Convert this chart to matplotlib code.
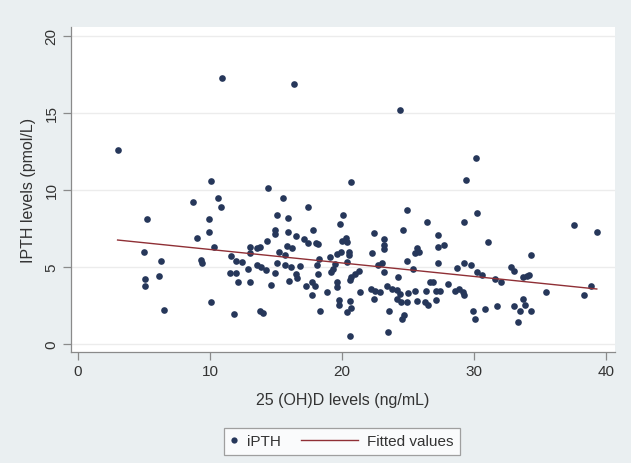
import matplotlib.pyplot as plt
from matplotlib.lines import Line2D
from matplotlib.legend_handler import HandlerLine2D

# 25(OH)D levels (ng/mL) and iPTH levels (pmol/L)
vitd = [10.9, 3.0, 10.1, 14.4, 16.4, 24.4, 20.7, 30.15, 29.4,
        8.7, 10.6, 10.8, 5.25, 9.95, 9.95, 9.0, 10.3, 4.97, 6.3, 9.3, 9.4, 5.1, 5.1, 6.15, 6.55,
        10.1, 11.8, 13.75, 14.0, 13.0, 13.0, 13.55, 13.8, 14.3, 11.6, 12.0, 12.45, 12.9, 13.55,
        13.85, 14.25, 11.5, 11.95, 12.1, 13.0, 14.6,
        15.5, 17.45, 15.1, 15.9, 14.9, 14.9, 15.9, 17.8, 16.5, 17.1, 17.45, 18.0, 15.85, 16.2,
        15.2, 15.7, 18.25, 15.05, 15.7, 16.1, 16.8, 14.9, 16.5, 16.6, 16.0, 17.25, 17.75, 17.95,
        17.75, 18.3,
        20.1, 19.85, 18.2, 20.0, 20.3, 20.4, 20.5, 20.5, 20.35, 19.9, 19.6, 19.1, 19.45, 19.35,
        19.15, 18.1, 18.15, 21.25, 21.0, 20.7, 20.6, 19.6, 19.65, 18.85, 21.35, 22.2, 22.5, 22.4,
        19.75, 19.75, 20.6, 20.7, 20.35, 20.6, 22.4, 22.25, 22.75,
        24.9, 26.45, 24.6, 27.3, 23.2, 23.2, 23.2, 25.65, 25.8, 25.5, 27.25, 24.9, 23.05, 23.2,
        25.4, 27.3, 24.25, 26.65, 26.9, 23.4, 23.75, 24.15, 24.4, 22.9, 25.0, 25.5, 25.65, 24.9,
        24.5, 24.2, 26.4, 26.3, 26.55, 27.15, 27.15, 23.55, 24.7, 24.55, 23.45,
        30.25, 29.25, 31.05, 27.7, 28.7, 29.25, 29.75, 30.25, 30.6, 31.6, 28.05, 27.4, 28.55,
        28.85, 29.2, 29.25, 29.9, 30.1, 30.8, 31.75,
        34.35, 37.55, 39.3, 32.05, 32.8, 33.0, 33.7, 34.0, 34.15, 33.0, 33.7, 33.9, 33.5, 34.35,
        33.3, 35.45, 38.35, 38.85]
ipth = [17.3, 12.6, 10.6, 10.1, 16.9, 15.2, 10.5, 12.1, 10.65,
        9.2, 9.5, 8.9, 8.1, 8.1, 7.3, 6.9, 6.3, 6.0, 5.4, 5.45, 5.25, 4.2, 3.75, 4.4, 2.2,
        2.7, 1.95, 2.15, 2.0, 6.3, 5.9, 6.2, 6.3, 6.7, 5.7, 5.4, 5.3, 4.9, 5.1,
        5.0, 4.8, 4.6, 4.6, 4.0, 4.0, 3.85,
        9.5, 8.9, 8.4, 8.15, 7.4, 7.15, 7.3, 7.4, 7.0, 6.8, 6.55, 6.55, 6.35, 6.25,
        5.95, 5.75, 5.5, 5.25, 5.15, 5.0, 5.05, 4.6, 4.55, 4.3, 4.1, 3.75, 4.0, 3.75,
        3.15, 2.15,
        8.4, 7.8, 6.5, 6.7, 6.9, 6.6, 6.0, 5.8, 5.3, 5.95, 5.85, 5.65, 5.2, 4.9,
        4.65, 5.15, 4.55, 4.75, 4.55, 4.35, 4.15, 4.05, 3.7, 3.4, 3.35, 3.55, 3.45, 2.9,
        2.85, 2.55, 2.8, 2.35, 2.05, 0.55, 7.2, 5.9, 5.15,
        8.7, 7.9, 7.4, 7.05, 6.8, 6.4, 6.15, 6.25, 5.95, 5.9, 6.3, 5.4, 5.25, 4.65,
        4.9, 5.25, 4.35, 4.05, 4.05, 3.75, 3.6, 3.5, 3.25, 3.35, 3.3, 3.45, 2.8, 2.75,
        2.7, 2.9, 3.45, 2.7, 2.55, 3.45, 2.85, 2.15, 1.85, 1.65, 0.75,
        8.5, 7.9, 6.6, 6.45, 4.95, 5.25, 5.1, 4.65, 4.5, 4.25, 3.9, 3.45, 3.45,
        3.55, 3.35, 3.2, 2.15, 1.65, 2.3, 2.45,
        5.8, 7.7, 7.3, 4.0, 5.0, 4.75, 4.35, 4.4, 4.45, 2.45, 2.95, 2.55, 2.15, 2.15,
        1.45, 3.35, 3.15, 3.75]

# fitted line end points
fit_x = [3.0, 39.3]
fit_y = [6.75, 3.57]

xticks = [0, 10, 20, 30, 40]
yticks = [0, 5, 10, 15, 20]

plt.rcParams['font.family'] = ['Liberation Sans', 'DejaVu Sans']

bg = '#eaeff1'
navy = '#26375a'
maroon = '#8f2f35'


class LongLine(HandlerLine2D):
    # legend line that reaches back into the column gap, like Stata's long key
    def create_artists(self, legend, orig_handle, xdescent, ydescent, width, height,
                       fontsize, trans):
        y = height / 2 - ydescent
        line = Line2D([-xdescent - 36, width - xdescent], [y, y])
        self.update_prop(line, orig_handle, legend)
        line.set_transform(trans)
        return [line]


fig = plt.figure(figsize=(6.31, 4.64), dpi=100, facecolor=bg)
ax = fig.add_axes([71 / 631, 1 - 353 / 464, 544 / 631, 325 / 464])
ax.set_facecolor('white')

ax.plot(vitd, ipth, 'o', color=navy, markersize=4.8, markeredgewidth=0, zorder=3)
ax.plot(fit_x, fit_y, color=maroon, linewidth=1.0, zorder=4)

ax.set_xlim(-0.53, 40.68)
ax.set_ylim(-0.52, 20.58)
ax.set_xticks(xticks)
ax.set_yticks(yticks)
ax.grid(axis='y', color='#ececec', linewidth=1.0)
ax.set_axisbelow(True)

for s in ['top', 'right']:
    ax.spines[s].set_visible(False)
for s in ['left', 'bottom']:
    ax.spines[s].set_color('#8a8a8a')
    ax.spines[s].set_linewidth(0.9)
ax.tick_params(axis='both', length=6, width=0.9, color='#8a8a8a', labelsize=11,
               labelcolor='#333333', pad=3)
for lab in ax.get_yticklabels():
    lab.set_rotation(90)
    lab.set_va('center')

ax.set_xlabel('25 (OH)D levels (ng/mL)', fontsize=11.5, color='#333333')
ax.xaxis.set_label_coords(0.5, -0.145)
ax.xaxis.label.set_va('center')
ax.set_ylabel('IPTH levels (pmol/L)', fontsize=11.5, color='#333333')
ax.yaxis.set_label_coords(-0.079, 0.5)
ax.yaxis.label.set_va('center')

dot = Line2D([], [], marker='o', linestyle='none', color=navy, markersize=4.5,
             markeredgewidth=0)
fitline = Line2D([], [], color=maroon, linewidth=1.0)
leg = fig.legend([dot, fitline], ['iPTH', 'Fitted values'], loc='center',
                 bbox_to_anchor=(342 / 631, 1 - 442.5 / 464), ncol=2, fontsize=11,
                 frameon=True, fancybox=False, handlelength=0.45, handletextpad=0.6,
                 columnspacing=4.6, borderpad=0.45, borderaxespad=0,
                 handler_map={fitline: LongLine()})
leg.get_frame().set_edgecolor('#8a8a8a')
leg.get_frame().set_linewidth(0.9)
leg.get_frame().set_facecolor('white')
for t in leg.get_texts():
    t.set_color('#333333')

fig.savefig('out.png', dpi=100, facecolor=bg)
